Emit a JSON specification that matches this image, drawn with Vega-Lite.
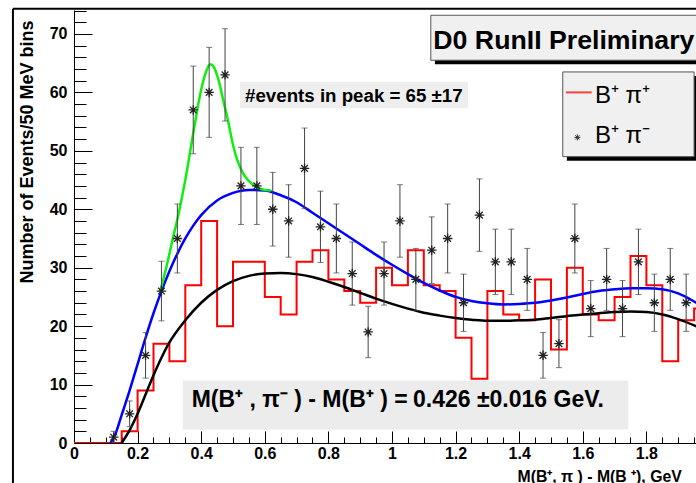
{
  "$schema": "https://vega.github.io/schema/vega-lite/v6.json",
  "width": 622,
  "height": 433,
  "autosize": {"type": "none"},
  "padding": {"left": 74, "top": 10, "right": 0, "bottom": 40},
  "background": "white",
  "config": {"view": {"stroke": null}, "font": "Liberation Sans", "axis": {"grid": false}},
  "resolve": {"axis": {"x": "independent", "y": "independent"}},
  "datasets": {
    "hist": [
      {"x": 0.0, "y": 0}, {"x": 0.05, "y": 0}, {"x": 0.1, "y": 0}, {"x": 0.15, "y": 2}, {"x": 0.2, "y": 9},
      {"x": 0.25, "y": 17}, {"x": 0.3, "y": 14}, {"x": 0.35, "y": 27}, {"x": 0.4, "y": 38}, {"x": 0.45, "y": 20},
      {"x": 0.5, "y": 31}, {"x": 0.55, "y": 31}, {"x": 0.6, "y": 25}, {"x": 0.65, "y": 22}, {"x": 0.7, "y": 31},
      {"x": 0.75, "y": 33}, {"x": 0.8, "y": 28}, {"x": 0.85, "y": 26}, {"x": 0.9, "y": 24}, {"x": 0.95, "y": 30},
      {"x": 1.0, "y": 27}, {"x": 1.05, "y": 33}, {"x": 1.1, "y": 27}, {"x": 1.15, "y": 26}, {"x": 1.2, "y": 18},
      {"x": 1.25, "y": 11}, {"x": 1.3, "y": 26}, {"x": 1.35, "y": 22}, {"x": 1.4, "y": 21}, {"x": 1.45, "y": 28},
      {"x": 1.5, "y": 16}, {"x": 1.55, "y": 30}, {"x": 1.6, "y": 22}, {"x": 1.65, "y": 21}, {"x": 1.7, "y": 25},
      {"x": 1.75, "y": 32}, {"x": 1.8, "y": 27}, {"x": 1.85, "y": 14}, {"x": 1.9, "y": 21}, {"x": 1.95, "y": 23},
      {"x": 2.0, "y": 23}
    ],
    "black": [
      {"x": 0.15, "y": 0}, {"x": 0.175, "y": 2.2}, {"x": 0.2, "y": 5.0}, {"x": 0.225, "y": 8.3}, {"x": 0.25, "y": 11.6},
      {"x": 0.275, "y": 14.6}, {"x": 0.3, "y": 17.2}, {"x": 0.35, "y": 21.0}, {"x": 0.4, "y": 24.0}, {"x": 0.45, "y": 26.2},
      {"x": 0.5, "y": 27.7}, {"x": 0.55, "y": 28.6}, {"x": 0.6, "y": 29.0}, {"x": 0.65, "y": 29.1}, {"x": 0.7, "y": 28.9},
      {"x": 0.75, "y": 28.4}, {"x": 0.8, "y": 27.6}, {"x": 0.85, "y": 26.7}, {"x": 0.9, "y": 25.7}, {"x": 0.95, "y": 24.7},
      {"x": 1.0, "y": 23.8}, {"x": 1.05, "y": 23.0}, {"x": 1.1, "y": 22.3}, {"x": 1.15, "y": 21.8}, {"x": 1.2, "y": 21.4},
      {"x": 1.25, "y": 21.1}, {"x": 1.3, "y": 20.9}, {"x": 1.35, "y": 20.9}, {"x": 1.4, "y": 21.0}, {"x": 1.45, "y": 21.1},
      {"x": 1.5, "y": 21.4}, {"x": 1.55, "y": 21.7}, {"x": 1.6, "y": 22.0}, {"x": 1.65, "y": 22.2}, {"x": 1.7, "y": 22.4},
      {"x": 1.75, "y": 22.5}, {"x": 1.8, "y": 22.4}, {"x": 1.85, "y": 22.0}, {"x": 1.9, "y": 21.2}, {"x": 1.96, "y": 19.9}
    ],
    "blue": [
      {"x": 0.115, "y": 0}, {"x": 0.13, "y": 1.5}, {"x": 0.15, "y": 4.8}, {"x": 0.175, "y": 9}, {"x": 0.2, "y": 13.5},
      {"x": 0.225, "y": 18}, {"x": 0.25, "y": 22.2}, {"x": 0.275, "y": 26}, {"x": 0.3, "y": 29.4}, {"x": 0.325, "y": 32.4},
      {"x": 0.35, "y": 35}, {"x": 0.375, "y": 37.2}, {"x": 0.4, "y": 39}, {"x": 0.45, "y": 41.5}, {"x": 0.5, "y": 42.8},
      {"x": 0.55, "y": 43.3}, {"x": 0.6, "y": 43.2}, {"x": 0.65, "y": 42.4}, {"x": 0.7, "y": 41.2}, {"x": 0.75, "y": 39.4},
      {"x": 0.8, "y": 37.6}, {"x": 0.85, "y": 35.8}, {"x": 0.9, "y": 34}, {"x": 0.95, "y": 32.2}, {"x": 1.0, "y": 30.5},
      {"x": 1.05, "y": 28.9}, {"x": 1.1, "y": 27.4}, {"x": 1.15, "y": 26.1}, {"x": 1.2, "y": 25.0}, {"x": 1.25, "y": 24.3},
      {"x": 1.3, "y": 23.9}, {"x": 1.35, "y": 23.7}, {"x": 1.4, "y": 23.8}, {"x": 1.45, "y": 24.0}, {"x": 1.5, "y": 24.4},
      {"x": 1.55, "y": 24.9}, {"x": 1.6, "y": 25.5}, {"x": 1.65, "y": 26.0}, {"x": 1.7, "y": 26.3}, {"x": 1.75, "y": 26.5},
      {"x": 1.8, "y": 26.5}, {"x": 1.85, "y": 26.3}, {"x": 1.9, "y": 25.6}, {"x": 1.96, "y": 23.9}
    ],
    "green": [
      {"x": 0.27, "y": 25.8}, {"x": 0.29, "y": 30}, {"x": 0.31, "y": 34.8}, {"x": 0.33, "y": 39.5}, {"x": 0.35, "y": 45},
      {"x": 0.375, "y": 53}, {"x": 0.4, "y": 60.5}, {"x": 0.415, "y": 63.5}, {"x": 0.428, "y": 64.8}, {"x": 0.44, "y": 64.3},
      {"x": 0.455, "y": 62}, {"x": 0.47, "y": 58.5}, {"x": 0.485, "y": 55}, {"x": 0.5, "y": 51}, {"x": 0.515, "y": 48.2},
      {"x": 0.53, "y": 46.3}, {"x": 0.55, "y": 44.8}, {"x": 0.575, "y": 43.8}, {"x": 0.6, "y": 43.3}, {"x": 0.62, "y": 43.2}
    ],
    "pts": [
      {"x": 0.125, "y": 1, "lo": 0, "hi": 2},
      {"x": 0.175, "y": 5, "lo": 2.8, "hi": 7.2},
      {"x": 0.225, "y": 15, "lo": 11.1, "hi": 18.9},
      {"x": 0.275, "y": 26, "lo": 20.9, "hi": 31.1},
      {"x": 0.325, "y": 35, "lo": 29.1, "hi": 40.9},
      {"x": 0.375, "y": 57, "lo": 49.5, "hi": 64.5},
      {"x": 0.425, "y": 60, "lo": 52.3, "hi": 67.7},
      {"x": 0.475, "y": 63, "lo": 55.1, "hi": 70.9},
      {"x": 0.525, "y": 44, "lo": 37.4, "hi": 50.6},
      {"x": 0.575, "y": 44, "lo": 37.4, "hi": 50.6},
      {"x": 0.625, "y": 40, "lo": 33.7, "hi": 46.3},
      {"x": 0.675, "y": 38, "lo": 31.8, "hi": 44.2},
      {"x": 0.725, "y": 47, "lo": 40.1, "hi": 53.9},
      {"x": 0.775, "y": 37, "lo": 30.9, "hi": 43.1},
      {"x": 0.825, "y": 35, "lo": 29.1, "hi": 40.9},
      {"x": 0.875, "y": 29, "lo": 23.6, "hi": 34.4},
      {"x": 0.925, "y": 19, "lo": 14.6, "hi": 23.4},
      {"x": 0.975, "y": 29, "lo": 23.6, "hi": 34.4},
      {"x": 1.025, "y": 38, "lo": 31.8, "hi": 44.2},
      {"x": 1.075, "y": 28, "lo": 22.7, "hi": 33.3},
      {"x": 1.125, "y": 33, "lo": 27.3, "hi": 38.7},
      {"x": 1.175, "y": 35, "lo": 29.1, "hi": 40.9},
      {"x": 1.225, "y": 24, "lo": 19.1, "hi": 28.9},
      {"x": 1.275, "y": 39, "lo": 32.8, "hi": 45.2},
      {"x": 1.325, "y": 31, "lo": 25.4, "hi": 36.6},
      {"x": 1.375, "y": 31, "lo": 25.4, "hi": 36.6},
      {"x": 1.425, "y": 28, "lo": 22.7, "hi": 33.3},
      {"x": 1.475, "y": 15, "lo": 11.1, "hi": 18.9},
      {"x": 1.525, "y": 17, "lo": 12.9, "hi": 21.1},
      {"x": 1.575, "y": 35, "lo": 29.1, "hi": 40.9},
      {"x": 1.625, "y": 23, "lo": 18.2, "hi": 27.8},
      {"x": 1.675, "y": 28, "lo": 22.7, "hi": 33.3},
      {"x": 1.725, "y": 23, "lo": 18.2, "hi": 27.8},
      {"x": 1.775, "y": 31, "lo": 25.4, "hi": 36.6},
      {"x": 1.825, "y": 24, "lo": 19.1, "hi": 28.9},
      {"x": 1.875, "y": 28, "lo": 22.7, "hi": 33.3},
      {"x": 1.925, "y": 24, "lo": 19.1, "hi": 28.9}
    ]
  },
  "layer": [
    {
      "data": {"values": [{}]},
      "mark": {"type": "rect", "fill": "#ececec", "clip": false},
      "encoding": {
        "x": {"datum": 0.342, "type": "quantitative", "axis": null},
        "x2": {"datum": 1.743},
        "y": {"datum": 10.7, "type": "quantitative", "axis": null},
        "y2": {"datum": 2.3}
      }
    },
    {
      "data": {"values": [{}]},
      "mark": {"type": "rect", "fill": "#eeeeee", "clip": false},
      "encoding": {
        "x": {"datum": 0.522, "type": "quantitative", "axis": null},
        "x2": {"datum": 1.239},
        "y": {"datum": 61.8, "type": "quantitative", "axis": null},
        "y2": {"datum": 57.3}
      }
    },
    {
      "data": {"name": "hist"},
      "mark": {"type": "line", "interpolate": "step-after", "color": "#ff0000", "strokeWidth": 2, "clip": true},
      "encoding": {
        "x": {"field": "x", "type": "quantitative",
              "scale": {"domain": [0, 1.956], "nice": false, "zero": false},
              "axis": {"orient": "bottom", "values": [0, 0.2, 0.4, 0.6, 0.8, 1, 1.2, 1.4, 1.6, 1.8], "format": "~g",
                       "labelFont": "Liberation Sans", "labelFontWeight": "bold", "labelFontSize": 16, "labelColor": "black",
                       "labelFlush": false, "labelOverlap": false, "labelPadding": 14,
                       "tickColor": "black", "tickSize": -12, "tickWidth": 1, "domainColor": "black", "domainWidth": 1,
                       "title": "M(B⁺, π ) - M(B ⁺), GeV", "titleFont": "Liberation Sans", "titleFontWeight": "bold",
                       "titleFontSize": 15.8, "titleColor": "black", "titleX": 443, "titleY": 38, "titleAlign": "left",
                       "titleBaseline": "alphabetic", "titleAnchor": null}},
        "y": {"field": "y", "type": "quantitative",
              "scale": {"domain": [0, 74.1], "nice": false, "zero": false},
              "axis": {"orient": "left", "values": [0, 10, 20, 30, 40, 50, 60, 70],
                       "labelFont": "Liberation Sans", "labelFontWeight": "bold", "labelFontSize": 16, "labelColor": "black",
                       "labelFlush": false, "labelOverlap": false, "labelPadding": 25,
                       "tickColor": "black", "tickSize": -18, "tickWidth": 1, "domainColor": "black", "domainWidth": 1,
                       "title": "Number of Events/50 MeV bins", "titleFont": "Liberation Sans", "titleFontWeight": "bold",
                       "titleFontSize": 18, "titleColor": "black", "titleX": -47, "titleY": 10, "titleAngle": 270,
                       "titleAlign": "right", "titleBaseline": "middle"}}
      }
    },
    {
      "data": {"name": "black"},
      "mark": {"type": "line", "interpolate": "monotone", "color": "#000000", "strokeWidth": 2.5, "clip": true},
      "encoding": {
        "x": {"field": "x", "type": "quantitative",
              "axis": {"orient": "bottom", "values": [0.05, 0.1, 0.15, 0.25, 0.3, 0.35, 0.45, 0.5, 0.55, 0.65, 0.7, 0.75, 0.85, 0.9, 0.95, 1.05, 1.1, 1.15, 1.25, 1.3, 1.35, 1.45, 1.5, 1.55, 1.65, 1.7, 1.75, 1.85, 1.9, 1.95],
                       "labels": false, "domain": false, "title": null, "tickColor": "black", "tickSize": -6, "tickWidth": 1}},
        "y": {"field": "y", "type": "quantitative",
              "axis": {"orient": "left", "values": [2, 4, 6, 8, 12, 14, 16, 18, 22, 24, 26, 28, 32, 34, 36, 38, 42, 44, 46, 48, 52, 54, 56, 58, 62, 64, 66, 68, 72, 74],
                       "labels": false, "domain": false, "title": null, "tickColor": "black", "tickSize": -12, "tickWidth": 1}}
      }
    },
    {
      "data": {"name": "blue"},
      "mark": {"type": "line", "interpolate": "monotone", "color": "#0000ff", "strokeWidth": 2.5, "clip": true},
      "encoding": {
        "x": {"field": "x", "type": "quantitative", "axis": null},
        "y": {"field": "y", "type": "quantitative", "axis": null}
      }
    },
    {
      "data": {"name": "green"},
      "mark": {"type": "line", "interpolate": "monotone", "color": "#11ee11", "strokeWidth": 2.5, "clip": true},
      "encoding": {
        "x": {"field": "x", "type": "quantitative", "axis": null},
        "y": {"field": "y", "type": "quantitative", "axis": null}
      }
    },
    {
      "data": {"name": "pts"},
      "mark": {"type": "errorbar", "ticks": {"size": 6, "color": "#444444", "thickness": 1}, "rule": {"color": "#444444", "strokeWidth": 1}},
      "encoding": {
        "x": {"field": "x", "type": "quantitative", "axis": null},
        "y": {"field": "lo", "type": "quantitative", "axis": null},
        "y2": {"field": "hi"}
      }
    },
    {
      "data": {"name": "pts"},
      "mark": {"type": "point", "shape": "M-1,0L1,0M0,-1L0,1M-0.7,-0.7L0.7,0.7M-0.7,0.7L0.7,-0.7", "size": 90, "filled": false, "stroke": "#222222", "strokeWidth": 1.3, "opacity": 1},
      "encoding": {
        "x": {"field": "x", "type": "quantitative", "axis": null},
        "y": {"field": "y", "type": "quantitative", "axis": null}
      }
    },
    {
      "data": {"values": [{}]},
      "mark": {"type": "text", "text": "#events in peak = 65 ±17", "align": "left", "baseline": "alphabetic", "font": "Liberation Sans", "fontWeight": "bold", "fontSize": 18.7, "color": "black"},
      "encoding": {
        "x": {"datum": 0.538, "type": "quantitative", "axis": null},
        "y": {"datum": 58.3, "type": "quantitative", "axis": null}
      }
    },
    {
      "data": {"values": [{}]},
      "mark": {"type": "text", "text": "M(B⁺ , π⁻ )  -  M(B⁺ ) =", "align": "left", "baseline": "alphabetic", "font": "Liberation Sans", "fontWeight": "bold", "fontSize": 23, "color": "black"},
      "encoding": {
        "x": {"datum": 0.37, "type": "quantitative", "axis": null},
        "y": {"datum": 6.2, "type": "quantitative", "axis": null}
      }
    },
    {
      "data": {"values": [{}]},
      "mark": {"type": "text", "text": "0.426  ±0.016 GeV.", "align": "left", "baseline": "alphabetic", "font": "Liberation Sans", "fontWeight": "bold", "fontSize": 23, "color": "black"},
      "encoding": {
        "x": {"datum": 1.066, "type": "quantitative", "axis": null},
        "y": {"datum": 6.2, "type": "quantitative", "axis": null}
      }
    },
    {
      "data": {"values": [{}]},
      "mark": {"type": "rect", "fill": "#000000", "clip": false},
      "encoding": {
        "x": {"datum": 1.135, "type": "quantitative", "axis": null},
        "x2": {"datum": 2.1},
        "y": {"datum": 72.5, "type": "quantitative", "axis": null},
        "y2": {"datum": 64.8}
      }
    },
    {
      "data": {"values": [{}]},
      "mark": {"type": "rect", "fill": "#f0f0f0", "stroke": "#555555", "strokeWidth": 1, "clip": false},
      "encoding": {
        "x": {"datum": 1.122, "type": "quantitative", "axis": null},
        "x2": {"datum": 2.1},
        "y": {"datum": 73.2, "type": "quantitative", "axis": null},
        "y2": {"datum": 65.5}
      }
    },
    {
      "data": {"values": [{}]},
      "mark": {"type": "text", "text": "D0 RunII Preliminary", "align": "left", "baseline": "alphabetic", "font": "Liberation Sans", "fontWeight": "bold", "fontSize": 26.7, "color": "black"},
      "encoding": {
        "x": {"datum": 1.13, "type": "quantitative", "axis": null},
        "y": {"datum": 67.5, "type": "quantitative", "axis": null}
      }
    },
    {
      "data": {"values": [{}]},
      "mark": {"type": "rect", "fill": "#000000", "clip": false},
      "encoding": {
        "x": {"datum": 1.55, "type": "quantitative", "axis": null},
        "x2": {"datum": 1.962},
        "y": {"datum": 62.8, "type": "quantitative", "axis": null},
        "y2": {"datum": 48.3}
      }
    },
    {
      "data": {"values": [{}]},
      "mark": {"type": "rect", "fill": "#f0f0f0", "stroke": "#555555", "strokeWidth": 1, "clip": false},
      "encoding": {
        "x": {"datum": 1.537, "type": "quantitative", "axis": null},
        "x2": {"datum": 1.95},
        "y": {"datum": 63.5, "type": "quantitative", "axis": null},
        "y2": {"datum": 49.0}
      }
    },
    {
      "data": {"values": [{}]},
      "mark": {"type": "rule", "color": "#ff4040", "strokeWidth": 2, "clip": false},
      "encoding": {
        "x": {"datum": 1.547, "type": "quantitative", "axis": null},
        "x2": {"datum": 1.628},
        "y": {"datum": 60.0, "type": "quantitative", "axis": null}
      }
    },
    {
      "data": {"values": [{}]},
      "mark": {"type": "point", "shape": "M-1,0L1,0M0,-1L0,1M-0.7,-0.7L0.7,0.7M-0.7,0.7L0.7,-0.7", "size": 36, "filled": false, "stroke": "#333333", "strokeWidth": 1, "opacity": 1, "clip": false},
      "encoding": {
        "x": {"datum": 1.583, "type": "quantitative", "axis": null},
        "y": {"datum": 52.3, "type": "quantitative", "axis": null}
      }
    },
    {
      "data": {"values": [{}]},
      "mark": {"type": "text", "text": "B⁺ π⁺", "align": "left", "baseline": "alphabetic", "font": "Liberation Sans", "fontSize": 24, "color": "black"},
      "encoding": {
        "x": {"datum": 1.638, "type": "quantitative", "axis": null},
        "y": {"datum": 58.2, "type": "quantitative", "axis": null}
      }
    },
    {
      "data": {"values": [{}]},
      "mark": {"type": "text", "text": "B⁺ π⁻", "align": "left", "baseline": "alphabetic", "font": "Liberation Sans", "fontSize": 24, "color": "black"},
      "encoding": {
        "x": {"datum": 1.638, "type": "quantitative", "axis": null},
        "y": {"datum": 51.3, "type": "quantitative", "axis": null}
      }
    },
    {
      "data": {"values": [{}]},
      "mark": {"type": "rule", "color": "#000000", "strokeWidth": 2, "clip": false},
      "encoding": {
        "x": {"datum": -0.192, "type": "quantitative", "axis": null},
        "y": {"datum": 74.3, "type": "quantitative", "axis": null},
        "y2": {"datum": -7}
      }
    },
    {
      "data": {"values": [{}]},
      "mark": {"type": "rule", "color": "#000000", "strokeWidth": 2, "clip": false},
      "encoding": {
        "x": {"datum": -0.192, "type": "quantitative", "axis": null},
        "x2": {"datum": 2.1},
        "y": {"datum": 74.3, "type": "quantitative", "axis": null}
      }
    }
  ]
}
